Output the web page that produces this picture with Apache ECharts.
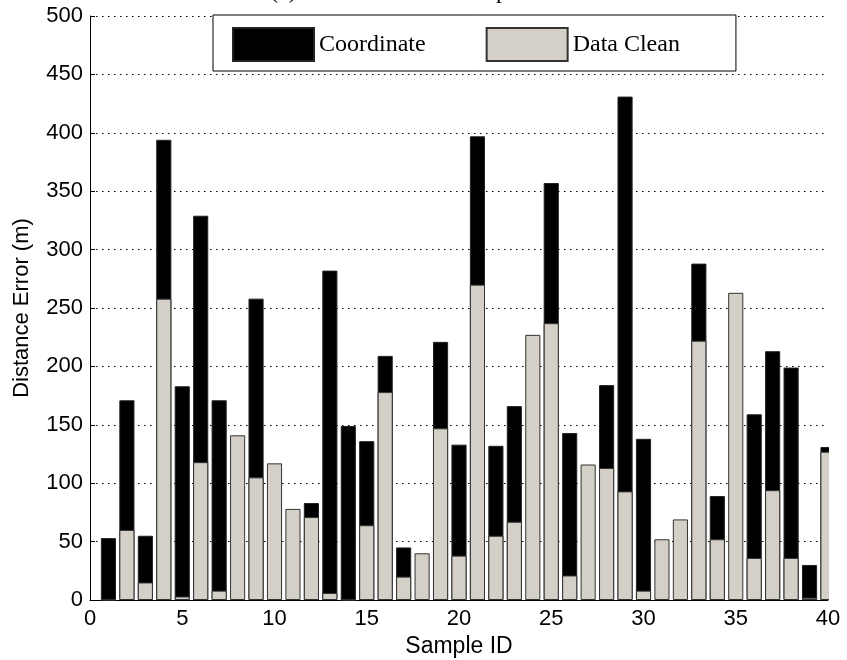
<!DOCTYPE html>
<html>
<head>
<meta charset="utf-8">
<script src="https://cdn.jsdelivr.net/npm/echarts@6/dist/echarts.min.js"></script>
<style>
html,body{margin:0;padding:0;background:#fff;}
#chart{width:847px;height:660px;}
</style>
</head>
<body>
<div id="chart"></div>
<script>
const sampleIds = [1,2,3,4,5,6,7,8,9,10,11,12,13,14,15,16,17,18,19,20,21,22,23,24,25,26,27,28,29,30,31,32,33,34,35,36,37,38,39,40];
const coordinate = [53,171,55,394,183,329,171,null,258,null,null,83,282,149,136,209,45,null,221,133,397,132,166,null,357,143,null,184,431,138,null,null,288,89,null,159,213,199,30,131];
const dataClean = [0,60,15,258,3,118,8,141,105,117,78,71,6,0,64,178,20,40,147,38,270,55,67,227,237,21,116,113,93,8,52,69,222,52,263,36,94,36,2,127];
const xTicks = [0,5,10,15,20,25,30,35,40];
const yTicks = [0,50,100,150,200,250,300,350,400,450,500];

const pairs = (vals) => sampleIds.map((id, i) => [id, vals[i]]);

const W = 847, H = 660;
const grid = {left: 90, right: 19, top: 16, bottom: 60};

const chart = echarts.init(document.getElementById('chart'), null, {renderer: 'canvas'});
chart.setOption({
  animation: false,
  backgroundColor: '#fff',
  title: {
    text: '(c) Distance Error Comparison',
    left: 270,
    top: -20,
    padding: 0,
    textStyle: {fontFamily: 'Liberation Serif', fontSize: 24, fontWeight: 'normal', color: '#000'}
  },
  legend: {
    left: 213,
    top: 15,
    orient: 'horizontal',
    itemWidth: 81,
    itemHeight: 33,
    itemGap: 60,
    padding: [12, 56, 9, 19],
    borderColor: '#000',
    borderWidth: 1,
    backgroundColor: '#fff',
    icon: 'rect',
    textStyle: {fontFamily: 'Liberation Serif', fontSize: 24, color: '#000'},
    data: ['Coordinate', 'Data Clean']
  },
  grid: {left: grid.left, right: grid.right, top: grid.top, bottom: grid.bottom, containLabel: false, outerBoundsMode: 'none'},
  // mask the part of the last bar that lies beyond the right end of the x axis (x = 40)
  graphic: [{
    type: 'rect',
    z: 100,
    shape: {x: W - grid.right + 1, y: 0, width: grid.right, height: H - grid.bottom},
    style: {fill: '#fff'}
  }],
  xAxis: {
    type: 'value',
    min: xTicks[0],
    max: xTicks[xTicks.length - 1],
    interval: xTicks[1] - xTicks[0],
    name: 'Sample ID',
    nameLocation: 'middle',
    nameGap: 35,
    nameTextStyle: {fontFamily: 'Liberation Sans', fontSize: 23, color: '#000'},
    axisLine: {show: true, onZero: false, lineStyle: {color: '#000', width: 1}},
    axisTick: {show: true, inside: true, length: 5, lineStyle: {color: '#000'}},
    axisLabel: {fontFamily: 'Liberation Sans', fontSize: 22, color: '#000', margin: 8},
    splitLine: {show: false}
  },
  yAxis: {
    type: 'value',
    min: yTicks[0],
    max: yTicks[yTicks.length - 1],
    interval: yTicks[1] - yTicks[0],
    name: 'Distance Error (m)',
    nameLocation: 'middle',
    nameGap: 57,
    nameTextStyle: {fontFamily: 'Liberation Sans', fontSize: 22, color: '#000'},
    axisLine: {show: true, lineStyle: {color: '#000', width: 1}},
    axisTick: {show: true, inside: true, length: 5, lineStyle: {color: '#000'}},
    axisLabel: {fontFamily: 'Liberation Sans', fontSize: 22, color: '#000', margin: 7},
    splitLine: {show: true, lineStyle: {color: '#000', width: 1, type: [1.5, 4.5]}}
  },
  series: [
    {
      name: 'Coordinate',
      type: 'bar',
      data: pairs(coordinate),
      barWidth: '82%',
      barGap: '-100%',
      clip: true,
      itemStyle: {color: '#000', borderColor: '#222', borderWidth: 1}
    },
    {
      name: 'Data Clean',
      type: 'bar',
      data: pairs(dataClean),
      barWidth: '82%',
      barGap: '-100%',
      clip: true,
      itemStyle: {color: '#d4d0c8', borderColor: '#333', borderWidth: 1}
    }
  ]
});
</script>
</body>
</html>
